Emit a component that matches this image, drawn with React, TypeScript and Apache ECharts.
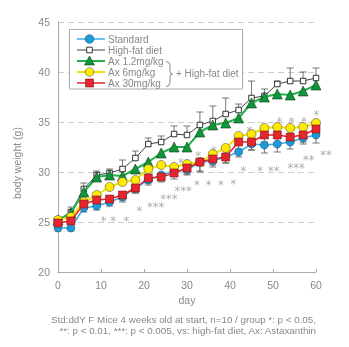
import React, { useEffect, useRef } from "react";
import * as echarts from "echarts";

const days = [0, 3, 6, 9, 12, 15, 18, 21, 24, 27, 30, 33, 36, 39, 42, 45, 48, 51, 54, 57, 60];
const standard = [24.4, 24.4, 26.4, 26.6, 27.0, 27.5, 28.4, 29.2, 29.7, 30.1, 30.2, 31.0, 31.1, 31.5, 32.0, 32.8, 32.7, 32.8, 33.0, 33.4, 33.7];
const highFat = [25.2, 26.0, 28.3, 29.7, 29.9, 30.3, 31.4, 32.8, 33.0, 33.8, 33.7, 34.7, 35.1, 35.8, 36.2, 37.4, 37.6, 38.8, 39.1, 39.1, 39.4];
const ax12 = [25.2, 25.9, 28.0, 29.5, 29.7, 29.6, 30.3, 31.0, 31.9, 32.5, 32.5, 34.0, 34.7, 34.9, 35.4, 36.9, 37.5, 37.8, 37.7, 38.1, 38.7];
const ax6 = [25.2, 25.5, 27.0, 27.7, 28.5, 29.0, 29.2, 30.3, 30.7, 30.5, 30.8, 31.0, 31.8, 32.4, 33.6, 33.8, 34.4, 34.5, 34.4, 34.5, 34.9];
const ax30 = [24.9, 25.1, 26.8, 27.2, 27.3, 27.7, 28.4, 29.4, 29.5, 29.9, 30.4, 31.0, 31.3, 31.5, 33.0, 33.0, 33.7, 33.7, 33.5, 33.7, 34.3];
const highFatSD = [0.3, 0.5, 0.6, 0.4, 0.4, 0.9, 0.7, 0.6, 0.6, 0.8, 0.9, 1.3, 1.5, 1.6, 0.6, 1.7, 0.7, 0.3, 1.3, 0.9, 1.0];
const standardSD = [0.3, 0.3, 0.4, 0.4, 0.4, 0.5, 0.5, 0.5, 0.5, 0.5, 0.5, 1.0, 0.6, 0.6, 0.5, 0.6, 0.8, 0.8, 0.7, 0.6, 0.8];
const ax30SD = [0.3, 0.3, 0.4, 0.4, 0.5, 0.5, 0.5, 0.5, 0.5, 0.6, 0.6, 0.9, 0.6, 0.6, 0.7, 0.8, 0.7, 0.7, 0.7, 0.7, 0.7];

const seriesNames = ["Standard", "High-fat diet", "Ax 1.2mg/kg", "Ax 6mg/kg", "Ax 30mg/kg"];
const groupNote = "+ High-fat diet";
const xTitle = "day";
const yTitle = "body weight (g)";
const captionLines = [
  "Std:ddY F Mice 4 weeks old at start, n=10 / group *: p < 0.05,",
  "**: p < 0.01, ***: p < 0.005, vs: high-fat diet, Ax: Astaxanthin",
];

// significance marks: [day, weight, text]
const sigMarks: [number, number, string][] = [
  [10.6, 25.4, "*"], [12.8, 25.4, "*"], [15.9, 25.4, "*"],
  [18.9, 26.4, "*"], [22.7, 26.8, "***"], [25.8, 27.6, "***"], [29.1, 28.4, "***"],
  [28.6, 31.2, "*"], [32.6, 31.9, "*"], [36.2, 32.4, "*"],
  [32.3, 29.0, "*"], [35.0, 29.0, "*"], [37.9, 29.0, "*"], [40.8, 29.1, "*"],
  [44.5, 34.4, "*"], [43.1, 30.4, "*"], [47.0, 30.4, "*"], [50.2, 30.4, "**"],
  [55.4, 30.7, "***"], [58.3, 31.5, "**"], [62.3, 32.0, "**"],
  [51.5, 35.3, "*"], [54.3, 35.3, "*"], [57.2, 35.3, "*"], [60.1, 36.0, "*"],
];

const FONT = "Liberation Sans, Arial, sans-serif";
const GRAY = "#888";

const pair = (vals: number[]) => days.map((d, i) => [d, vals[i]]);

function errSeries(vals: number[], sds: number[], dir: number) {
  return {
    type: "custom",
    z: 1,
    silent: true,
    clip: false,
    data: days.map((d, i) => [d, vals[i], sds[i]]),
    encode: { x: 0, y: 1 },
    renderItem: (_p: any, api: any) => {
      const x = api.value(0);
      const y = api.value(1);
      const s = api.value(2);
      const p0 = api.coord([x, y]);
      const p1 = api.coord([x, y + dir * s]);
      const st = { stroke: "#555", lineWidth: 0.8 };
      return {
        type: "group",
        children: [
          { type: "line", shape: { x1: p0[0], y1: p0[1], x2: p1[0], y2: p1[1] }, style: st },
          { type: "line", shape: { x1: p1[0] - 3.5, y1: p1[1], x2: p1[0] + 3.5, y2: p1[1] }, style: st },
        ],
      };
    },
  };
}

const styles = [
  { line: "#36b0e6", lw: 1.5, symbol: "circle", size: 8, fill: "#1d9bd7", border: "#25507a" },
  { line: "#444", lw: 1, symbol: "rect", size: 5.5, fill: "#fff", border: "#333" },
  { line: "#22b24c", lw: 2, symbol: "triangle", size: 10, fill: "#0f963a", border: "#1d3b1d" },
  { line: "#f1e300", lw: 2, symbol: "circle", size: 9, fill: "#ffea00", border: "#555" },
  { line: "#e8222a", lw: 1.5, symbol: "rect", size: 8, fill: "#e6262e", border: "#7a1515" },
];
const seriesData = [standard, highFat, ax12, ax6, ax30];

let braceRegistered = false;
function registerBrace() {
  if (braceRegistered) return;
  const d = "M0,0 Q4,0 4,4 L4,10 Q4,12.5 6.5,12.5 Q4,12.5 4,15 L4,21 Q4,25 0,25";
  echarts.graphic.registerShape("brace", echarts.graphic.extendPath(d, {}) as any);
  braceRegistered = true;
}

export default function App() {
  const ref = useRef<HTMLDivElement>(null);
  useEffect(() => {
    if (!ref.current) return;
    registerBrace();
    const chart = echarts.init(ref.current, undefined, { renderer: "svg" });

    const lineSeries = seriesNames.map((name, i) => ({
      type: "line",
      name,
      data: pair(seriesData[i]),
      z: 2 + i * 0.1,
      symbol: styles[i].symbol,
      symbolSize: styles[i].size,
      showSymbol: true,
      lineStyle: { color: styles[i].line, width: styles[i].lw },
      itemStyle: { color: styles[i].fill, borderColor: styles[i].border, borderWidth: i === 1 ? 1 : 0.6 },
      emphasis: { disabled: true },
    }));

    const legendY = [39, 50, 61, 72, 83];
    const legendGraphics: any[] = [
      { type: "rect", z: 3, shape: { x: 69.5, y: 29.5, width: 173, height: 59.5 }, style: { fill: "#fff", stroke: "#aaa", lineWidth: 1 } },
    ];
    seriesNames.forEach((name, i) => {
      const cy = legendY[i];
      const cx = 89.5;
      const s = styles[i];
      legendGraphics.push({ type: "line", z: 4, shape: { x1: 77, y1: cy, x2: 105, y2: cy }, style: { stroke: s.line, lineWidth: s.lw } });
      const ms = { fill: s.fill, stroke: s.border, lineWidth: i === 1 ? 1 : 0.6 };
      if (s.symbol === "circle") {
        legendGraphics.push({ type: "circle", z: 5, shape: { cx, cy, r: 4.3 }, style: ms });
      } else if (s.symbol === "triangle") {
        legendGraphics.push({ type: "polygon", z: 5, shape: { points: [[cx, cy - 5], [cx + 5, cy + 4], [cx - 5, cy + 4]] }, style: ms });
      } else {
        const h = i === 1 ? 2.8 : 4;
        legendGraphics.push({ type: "rect", z: 5, shape: { x: cx - h, y: cy - h, width: 2 * h, height: 2 * h }, style: ms });
      }
      legendGraphics.push({ type: "text", z: 5, x: 108, y: cy, style: { text: name, fill: GRAY, font: `10px ${FONT}`, verticalAlign: "middle" } });
    });
    legendGraphics.push({ type: "brace", z: 5, x: 166, y: 61.5, style: { stroke: GRAY, fill: "none", lineWidth: 1 } });
    legendGraphics.push({ type: "text", z: 5, x: 176, y: 73.5, style: { text: groupNote, fill: GRAY, font: `10px ${FONT}`, verticalAlign: "middle" } });

    const captionGraphics = captionLines.map((t, i) => ({
      type: "text",
      x: 316,
      y: 319 + i * 11.5,
      style: { text: t, fill: GRAY, font: `9.8px ${FONT}`, align: "right", verticalAlign: "middle" },
    }));

    chart.setOption({
      animation: false,
      grid: { left: 58, right: 33, top: 22, bottom: 75 },
      xAxis: {
        type: "value",
        min: 0,
        max: 60,
        interval: 10,
        name: xTitle,
        nameLocation: "middle",
        nameGap: 19,
        nameTextStyle: { color: GRAY, fontSize: 10.5, fontFamily: FONT },
        axisLine: { lineStyle: { color: "#aaa", width: 1 } },
        axisTick: { show: true, inside: true, length: 3, lineStyle: { color: "#aaa" } },
        axisLabel: { color: GRAY, fontSize: 10.5, fontFamily: FONT, margin: 7 },
        splitLine: { show: false },
      },
      yAxis: {
        type: "value",
        min: 20,
        max: 45,
        interval: 5,
        axisLine: { show: true, lineStyle: { color: "#aaa", width: 1 } },
        axisTick: { show: false },
        axisLabel: { color: GRAY, fontSize: 10.5, fontFamily: FONT, margin: 8 },
        splitLine: { show: true, lineStyle: { color: "#ccc", type: [6, 4], width: 1 } },
      },
      graphic: [
        { type: "text", x: 17, y: 163, rotation: Math.PI / 2, style: { text: yTitle, fill: GRAY, font: `10.5px ${FONT}`, align: "center", verticalAlign: "middle" } },
        ...legendGraphics,
        ...captionGraphics,
      ],
      series: [
        errSeries(highFat, highFatSD, 1),
        errSeries(standard, standardSD, -1),
        errSeries(ax30, ax30SD, -1),
        ...lineSeries,
        {
          type: "scatter",
          name: "significance",
          silent: true,
          clip: false,
          symbolSize: 0,
          z: 3,
          data: sigMarks.map((m) => ({ value: [m[0], m[1]], label: { formatter: m[2] } })),
          label: { show: true, position: "inside", color: "#999", fontSize: 11.5, lineHeight: 7, fontFamily: "DejaVu Sans", offset: [0, 2.5] },
        },
      ],
    });
    return () => chart.dispose();
  }, []);
  return <div ref={ref} style={{ position: "fixed", left: 0, top: 0, width: 349, height: 347 }} />;
}
